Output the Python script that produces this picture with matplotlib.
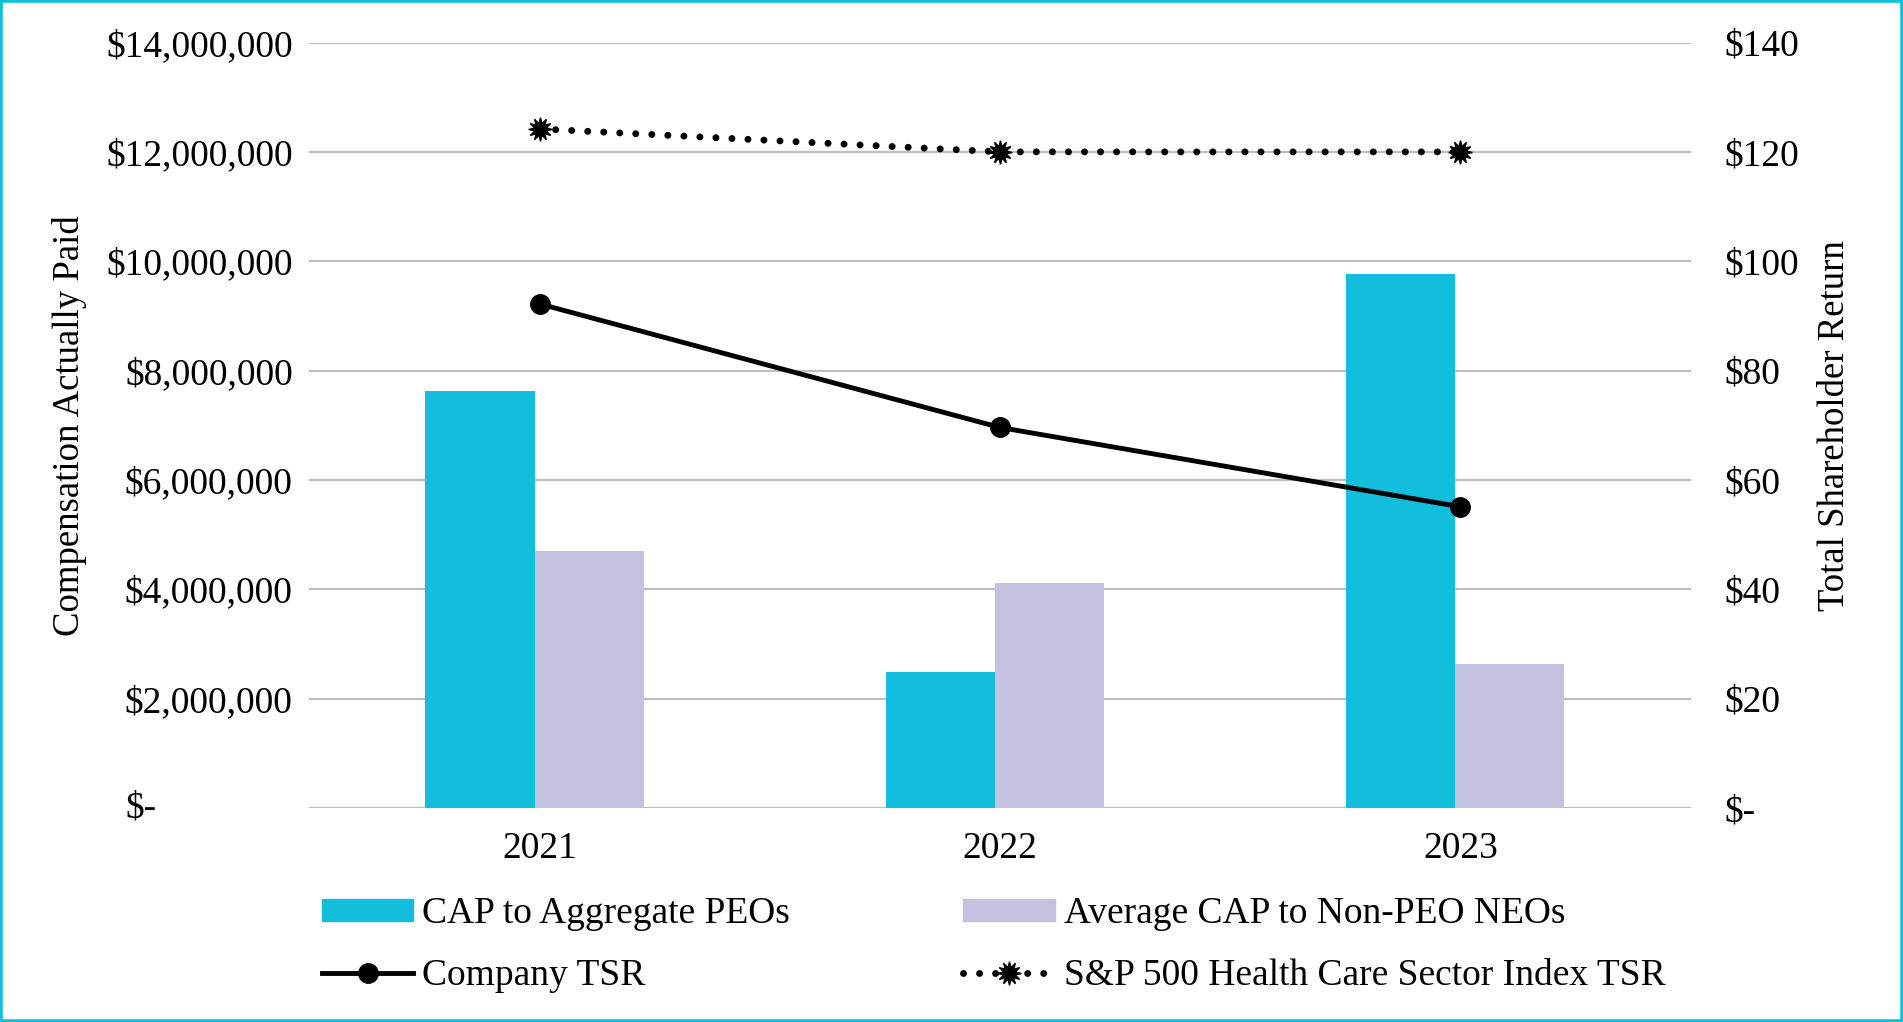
import matplotlib
matplotlib.use('Agg')
import matplotlib.pyplot as plt
from matplotlib.lines import Line2D
from matplotlib.patches import Patch, Rectangle
from matplotlib.ticker import FuncFormatter
import numpy as np

years = ['2021', '2022', '2023']
cap_peo = [7.62e6, 2.49e6, 9.76e6]
cap_neo = [4.71e6, 4.11e6, 2.64e6]
company_tsr = [92.2, 69.6, 55.1]
index_tsr = [124.2, 120.0, 120.0]
left_ticks = np.arange(0, 14e6 + 1, 2e6)
right_ticks = np.arange(0, 141, 20)

CYAN = '#13BEDC'
LAV = '#C3C3E1'
GRID = '#BFBFBF'
FS = 27
LFS = 26.5

plt.rcParams['font.family'] = ['Liberation Serif', 'DejaVu Serif']

fig = plt.figure(figsize=(19.03, 10.22), dpi=100)
ax = fig.add_axes([0.1626, 0.2093, 0.7258, 0.7491])
ax2 = ax.twinx()

x = np.arange(len(years))
w = 0.237
shift = -0.011
ax.bar(x + shift - w / 2, cap_peo, w, color=CYAN, zorder=2)
ax.bar(x + shift + w / 2, cap_neo, w, color=LAV, zorder=2)

ax.set_xlim(-0.5, 2.5)
ax.set_ylim(0, 14e6)
ax.set_yticks(left_ticks)
ax.yaxis.set_major_formatter(FuncFormatter(lambda v, p: '' if v == 0 else f'${v:,.0f}'))
ax.set_xticks(x)
ax.set_xticklabels(years)
ax.grid(axis='y', color=GRID, lw=1.6, zorder=0)
ax.set_axisbelow(True)
ax.tick_params(axis='both', length=0, labelsize=FS)
ax.tick_params(axis='y', pad=12)
ax.tick_params(axis='x', pad=17)
for s in ax.spines.values():
    s.set_visible(False)
ax.text(-0.1333, 0, '$-', transform=ax.get_yaxis_transform(), ha='left', va='center', fontsize=FS)

ax2.plot(x, company_tsr, color='black', lw=3.5, marker='o', ms=14, zorder=4)
ax2.plot(x, index_tsr, color='black', lw=5, linestyle=(0, (0.01, 2.3)), dash_capstyle='round',
         marker=(12, 1, 0), ms=17, zorder=4)
ax2.set_ylim(0, 140)
ax2.set_yticks(right_ticks)
ax2.yaxis.set_major_formatter(FuncFormatter(lambda v, p: '$-' if v == 0 else f'${v:,.0f}'))
ax2.tick_params(axis='y', length=0, labelsize=FS, pad=24)
for s in ax2.spines.values():
    s.set_visible(False)

fig.text(0.0364, 0.584, 'Compensation Actually Paid', rotation=90, ha='center', va='center', fontsize=LFS)
fig.text(0.964, 0.584, 'Total Shareholder Return', rotation=90, ha='center', va='center', fontsize=LFS)

handles = [
    Patch(color=CYAN),
    Line2D([], [], color='black', lw=3.5, marker='o', ms=14),
    Patch(color=LAV),
    Line2D([], [], color='black', lw=5, linestyle=(0, (0.01, 2.3)), dash_capstyle='round',
           marker=(12, 1, 0), ms=17),
]
labels = ['CAP to Aggregate PEOs', 'Company TSR', 'Average CAP to Non-PEO NEOs',
          'S&P 500 Health Care Sector Index TSR']
fig.legend(handles, labels, ncol=2, loc='upper left', bbox_to_anchor=(0.169, 0.1225),
           frameon=False, fontsize=FS, handlelength=2.45, handleheight=0.55, handletextpad=0.23,
           columnspacing=4.62, labelspacing=0.72, borderpad=0, borderaxespad=0)

fig.patches.append(Rectangle((0, 0), 1, 1, transform=fig.transFigure, fill=False,
                             edgecolor=CYAN, lw=4, zorder=10))

fig.savefig('out.png', dpi=100)
